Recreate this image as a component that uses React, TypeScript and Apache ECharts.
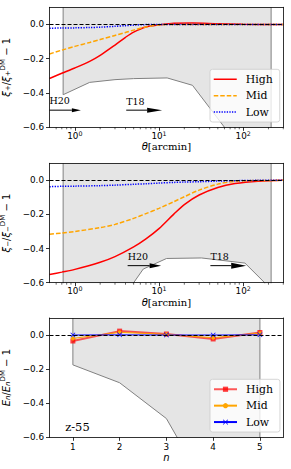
import React, { useEffect, useRef } from 'react';
import * as echarts from 'echarts';

// ---------- data ----------
const thetaPlus = [0.5, 0.7, 1, 1.5, 2, 3, 4, 5, 7, 10, 15, 25, 50, 100, 300];
const xiPlusHigh = [-0.315, -0.285, -0.254, -0.215, -0.18, -0.12, -0.075, -0.045, -0.015, -0.003, 0.007, 0.008, 0.004, 0.001, 0.0];
const xiPlusMid = [-0.172, -0.15, -0.128, -0.105, -0.088, -0.064, -0.047, -0.033, -0.015, -0.003, 0, 0, 0, 0, 0];
const xiPlusLow = [-0.022, -0.021, -0.02, -0.018, -0.016, -0.011, -0.007, -0.004, -0.001, 0, 0, 0, 0, 0, 0];

const thetaMinus = [0.5, 0.7, 1, 2, 3, 5, 7, 10, 15, 20, 30, 50, 80, 150, 300];
const xiMinusHigh = [-0.552, -0.538, -0.522, -0.48, -0.447, -0.39, -0.343, -0.283, -0.198, -0.142, -0.086, -0.042, -0.019, -0.005, 0];
const xiMinusMid = [-0.316, -0.309, -0.3, -0.277, -0.258, -0.223, -0.195, -0.164, -0.125, -0.096, -0.057, -0.022, -0.006, -0.001, 0];
const xiMinusLow = [-0.037, -0.035, -0.034, -0.031, -0.028, -0.023, -0.02, -0.016, -0.012, -0.01, -0.008, -0.004, -0.002, 0, 0];

const nValues = [1, 2, 3, 4, 5];
const enHigh = [-0.035, 0.023, 0.006, -0.023, 0.015];
const enMid = [-0.02, 0.016, 0.004, -0.016, 0.011];
const enLow = [0.0, 0.001, 0.0, 0.0, 0.001];

// shaded (allowed) region lower boundaries
const bound1X = [0.726, 0.726, 1.5, 3, 5, 12.5, 25, 60, 215, 215];
const bound1Y = [0.1, -0.41, -0.338, -0.322, -0.316, -0.312, -0.355, -0.6, -1.5, 0.1];
const bound2X = [0.726, 0.726, 4.3, 5.0, 6.5, 12.3, 32, 105, 180, 215, 215];
const bound2Y = [0.1, -0.9, -0.65, -0.6, -0.52, -0.458, -0.455, -0.485, -0.6, -0.9, 0.1];
const bound3X = [1, 1, 2, 3, 4, 5, 5];
const bound3Y = [0.1, -0.175, -0.28, -0.49, -0.97, -1.45, 0.1];

// annotations
const arrowLabels = ['H20', 'T18'];
const arrowStart1 = [0.5, 4.08];
const arrowEnd1 = [1.18, 10.9];
const arrowStart2 = [4.24, 40.8];
const arrowEnd2 = [10.6, 108.6];
const arrowY = [-0.5, -0.5];
const arrowLabelY = [-0.445, -0.447];
const sampleLabel = ['z-55'];
const sampleLabelPos = [[0.835, -0.537]];

// ticks
const logMajor = [1, 10, 100];
const logMinor = [0.6, 0.7, 0.8, 0.9, 2, 3, 4, 5, 6, 7, 8, 9, 20, 30, 40, 50, 60, 70, 80, 90, 200, 300];
const yTicks = [-0.6, -0.4, -0.2, 0];
const nTicks = [1, 2, 3, 4, 5];

// ---------- styles ----------
const SANS = 'DejaVu Sans';
const SERIF = 'DejaVu Serif';
const headSizes1 = [[9, 4], [15, 5]];
const headSizes2 = [[11.5, 5], [15, 6]];

const pairs = (xs: number[], ys: number[]) => xs.map((x, i) => [x, ys[i]]);

const gridDefs = [
  { left: 49.5, top: 7.3, width: 233.8, height: 120 },
  { left: 49.5, top: 163.3, width: 233.8, height: 119.4 },
  { left: 49.5, top: 318, width: 233.8, height: 119.3 },
];

const axisLineStyle = { color: '#000', width: 0.8 };

const yFmt = (v: number) => (Math.abs(v) < 1e-9 ? '0.0' : v.toFixed(1).replace('-', '\u2212'));
const logFmt = (v: number) => {
  const e = Math.log10(v);
  if (Math.abs(e - Math.round(e)) > 1e-6) return '';
  return '10{s|' + Math.round(e) + '}';
};

const nameRich = {
  i: { fontFamily: SANS, fontStyle: 'italic', fontSize: 10, color: '#000' },
  b: { fontFamily: SANS, fontSize: 7, color: '#000', padding: [4, 0, 0, 0] },
  bi: { fontFamily: SANS, fontStyle: 'italic', fontSize: 7, color: '#000', padding: [4, 0, 0, 0] },
  p: { fontFamily: SANS, fontSize: 7, color: '#000', padding: [0, 0, 6, 0] },
};

function mainX(g: number) {
  const isLog = g < 2;
  return {
    type: isLog ? 'log' : 'value',
    logBase: 10,
    gridIndex: g,
    min: 0.5,
    max: isLog ? 300 : 5.5,
    position: 'bottom',
    z: 10,
    axisLine: { show: true, onZero: false, lineStyle: axisLineStyle },
    axisTick: { show: true, length: 3.5, lineStyle: axisLineStyle, customValues: isLog ? logMajor : nTicks },
    axisLabel: {
      customValues: isLog ? logMajor : nTicks,
      formatter: isLog ? logFmt : (v: number) => String(v),
      color: '#000',
      fontFamily: SANS,
      fontSize: 8.8,
      margin: isLog ? 3 : 5,
      rich: { s: { fontFamily: SANS, fontSize: 6.3, color: '#000', padding: [0, 0, 5, 0] } },
    },
    splitLine: { show: false },
    name: isLog ? '{i|θ}[arcmin]' : '{i|n}',
    nameLocation: 'middle',
    nameGap: g === 0 ? 13 : g === 1 ? 15 : 13,
    nameTextStyle: { fontFamily: SERIF, fontSize: 10, color: '#000', rich: nameRich },
  };
}

function frameX(g: number) {
  const isLog = g < 2;
  return {
    type: isLog ? 'log' : 'value',
    logBase: 10,
    gridIndex: g,
    min: 0.5,
    max: isLog ? 300 : 5.5,
    position: 'top',
    z: 10,
    axisLine: { show: true, onZero: false, lineStyle: axisLineStyle },
    axisTick: { show: false },
    axisLabel: { show: false },
    splitLine: { show: false },
  };
}

const yNames = [
  '{i|ξ}{b|+}/{i|ξ}{b|+}{p|DM} − 1',
  '{i|ξ}{b|−}/{i|ξ}{b|−}{p|DM} − 1',
  '{i|E}{bi|n}/{i|E}{bi|n}{p|DM} − 1',
];

function mainY(g: number) {
  return {
    type: 'value',
    gridIndex: g,
    min: -0.6,
    max: 0.1,
    position: 'left',
    z: 10,
    axisLine: { show: true, onZero: false, lineStyle: axisLineStyle },
    axisTick: { show: true, length: 3.5, lineStyle: axisLineStyle, customValues: yTicks },
    axisLabel: { customValues: yTicks, formatter: yFmt, color: '#000', fontFamily: SANS, fontSize: 8.8, margin: 5.5 },
    splitLine: { show: false },
    name: yNames[g],
    nameLocation: 'middle',
    nameRotate: 90,
    nameGap: 30,
    nameTextStyle: { fontFamily: SANS, fontSize: 10, color: '#000', rich: nameRich },
  };
}

function frameY(g: number) {
  return {
    type: 'value',
    gridIndex: g,
    min: -0.6,
    max: 0.1,
    position: 'right',
    z: 10,
    axisLine: { show: true, onZero: false, lineStyle: axisLineStyle },
    axisTick: { show: false },
    axisLabel: { show: false },
    splitLine: { show: false },
  };
}

function boundarySeries(g: number, xs: number[], ys: number[]) {
  return {
    type: 'line',
    name: 'bound' + g,
    xAxisIndex: g,
    yAxisIndex: g,
    data: pairs(xs, ys),
    symbol: 'none',
    silent: true,
    z: 1,
    lineStyle: { color: '#808080', width: 1 },
    areaStyle: { color: '#e5e5e5', opacity: 1, origin: 'end' },
    markLine: {
      silent: true,
      symbol: 'none',
      label: { show: false },
      lineStyle: { color: '#000', width: 1, type: [4, 2] },
      data: [{ yAxis: 0 }],
      z: 5,
    },
  };
}

function curve(g: number, name: string, xs: number[], ys: number[], color: string, type: any, z: number) {
  return {
    type: 'line',
    name,
    xAxisIndex: g,
    yAxisIndex: g,
    data: pairs(xs, ys),
    symbol: 'none',
    smooth: 0.3,
    silent: true,
    z,
    itemStyle: { color },
    lineStyle: { color, width: 1.5, type },
  };
}

function minorTicks(g: number) {
  return {
    type: 'custom',
    xAxisIndex: g,
    yAxisIndex: g,
    silent: true,
    clip: false,
    z: 11,
    data: logMinor.map((v) => [v, -0.6]),
    encode: { x: 0, y: 1 },
    renderItem: (params: any, api: any) => {
      const p = api.coord([api.value(0), -0.6]);
      return {
        type: 'line',
        shape: { x1: p[0], y1: p[1], x2: p[0], y2: p[1] + 2 },
        style: { stroke: '#000', lineWidth: 0.6 },
      };
    },
  };
}

function arrows(g: number, starts: number[], ends: number[], heads: number[][]) {
  return {
    type: 'custom',
    xAxisIndex: g,
    yAxisIndex: g,
    silent: true,
    clip: false,
    z: 6,
    data: starts.map((s, i) => [s, ends[i], arrowY[i], arrowLabelY[i]]),
    encode: { x: [0, 1], y: [2, 3] },
    renderItem: (params: any, api: any) => {
      const i = params.dataIndex;
      const p0 = api.coord([api.value(0), api.value(2)]);
      const p1 = api.coord([api.value(1), api.value(2)]);
      const pt = api.coord([api.value(0), api.value(3)]);
      const hl = heads[i][0];
      const hw = heads[i][1];
      return {
        type: 'group',
        children: [
          { type: 'line', shape: { x1: p0[0], y1: p0[1], x2: p1[0] - hl, y2: p1[1] }, style: { stroke: '#000', lineWidth: 1 } },
          {
            type: 'polygon',
            shape: { points: [[p1[0] - hl, p1[1] - hw / 2], [p1[0], p1[1]], [p1[0] - hl, p1[1] + hw / 2]] },
            style: { fill: '#000' },
          },
          {
            type: 'text',
            x: pt[0],
            y: pt[1],
            style: { text: arrowLabels[i], fill: '#000', font: `9.5px "${SERIF}"`, align: 'left', verticalAlign: 'middle' },
          },
        ],
      };
    },
  };
}

const xMarker = 'path://M0,1 L1,0 L5,4 L9,0 L10,1 L6,5 L10,9 L9,10 L5,6 L1,10 L0,9 L4,5 Z';

const legendBase = {
  orient: 'vertical',
  left: 210,
  itemWidth: 23,
  itemGap: 5.4,
  padding: [4.45, 7, 4.45, 3],
  backgroundColor: 'rgba(255,255,255,0.8)',
  borderColor: '#cccccc',
  borderWidth: 0.8,
  borderRadius: 2.5,
  selectedMode: false,
  textStyle: { fontFamily: SERIF, fontSize: 10.9, color: '#000', padding: [0, 0, 0, 4] },
};

const option: any = {
  animation: false,
  backgroundColor: '#fff',
  grid: gridDefs.map((g) => ({ ...g, containLabel: false, outerBoundsMode: 'none' })),
  xAxis: [mainX(0), mainX(1), mainX(2), frameX(0), frameX(1), frameX(2)],
  yAxis: [mainY(0), mainY(1), mainY(2), frameY(0), frameY(1), frameY(2)],
  legend: [
    {
      ...legendBase,
      top: 69.3,
      itemHeight: 11,
      itemStyle: { opacity: 0 },
      lineStyle: { width: 1.5 },
      data: ['High', 'Mid', 'Low'],
    },
    {
      ...legendBase,
      top: 379.3,
      itemHeight: 6.5,
      data: ['High3', 'Mid3', 'Low3'],
      formatter: (name: string) => name.replace(/\d$/, ''),
    },
  ],
  series: [
    // panel 1
    boundarySeries(0, bound1X, bound1Y),
    curve(0, 'High', thetaPlus, xiPlusHigh, '#ff0000', 'solid', 3),
    curve(0, 'Mid', thetaPlus, xiPlusMid, '#ffa500', [4.5, 2], 3),
    curve(0, 'Low', thetaPlus, xiPlusLow, '#0000ff', [1.3, 1.3], 3),
    minorTicks(0),
    arrows(0, arrowStart1, arrowEnd1, headSizes1),
    // panel 2
    boundarySeries(1, bound2X, bound2Y),
    curve(1, 'High2', thetaMinus, xiMinusHigh, '#ff0000', 'solid', 3),
    curve(1, 'Mid2', thetaMinus, xiMinusMid, '#ffa500', [4.5, 2], 3),
    curve(1, 'Low2', thetaMinus, xiMinusLow, '#0000ff', [1.3, 1.3], 3),
    minorTicks(1),
    arrows(1, arrowStart2, arrowEnd2, headSizes2),
    // panel 3
    boundarySeries(2, bound3X, bound3Y),
    {
      type: 'line',
      name: 'High3',
      xAxisIndex: 2,
      yAxisIndex: 2,
      data: pairs(nValues, enHigh),
      symbol: 'rect',
      symbolSize: 5,
      silent: true,
      z: 3,
      itemStyle: { color: 'rgba(255,0,0,0.75)' },
      lineStyle: { color: 'rgba(255,0,0,0.65)', width: 2 },
    },
    {
      type: 'line',
      name: 'Mid3',
      xAxisIndex: 2,
      yAxisIndex: 2,
      data: pairs(nValues, enMid),
      symbol: 'circle',
      symbolSize: 4,
      silent: true,
      z: 3,
      itemStyle: { color: '#ffa500' },
      lineStyle: { color: '#ffa500', width: 1 },
    },
    {
      type: 'line',
      name: 'Low3',
      xAxisIndex: 2,
      yAxisIndex: 2,
      data: pairs(nValues, enLow),
      symbol: xMarker,
      symbolSize: 5,
      silent: true,
      z: 3,
      itemStyle: { color: '#0000ff' },
      lineStyle: { color: '#0000ff', width: 1 },
    },
    {
      type: 'custom',
      xAxisIndex: 2,
      yAxisIndex: 2,
      silent: true,
      clip: false,
      z: 6,
      data: sampleLabelPos,
      encode: { x: 0, y: 1 },
      renderItem: (params: any, api: any) => {
        const p = api.coord([api.value(0), api.value(1)]);
        return {
          type: 'text',
          x: p[0],
          y: p[1],
          style: { text: sampleLabel[params.dataIndex], fill: '#000', font: `11.5px "${SERIF}"`, align: 'left', verticalAlign: 'middle' },
        };
      },
    },
  ],
};

export default function App() {
  const ref = useRef<HTMLDivElement>(null);
  useEffect(() => {
    const chart = echarts.init(ref.current!, null, { renderer: 'svg' });
    chart.setOption(option);
    return () => chart.dispose();
  }, []);
  return <div ref={ref} style={{ position: 'fixed', left: 0, top: 0, width: 291, height: 469 }} />;
}
